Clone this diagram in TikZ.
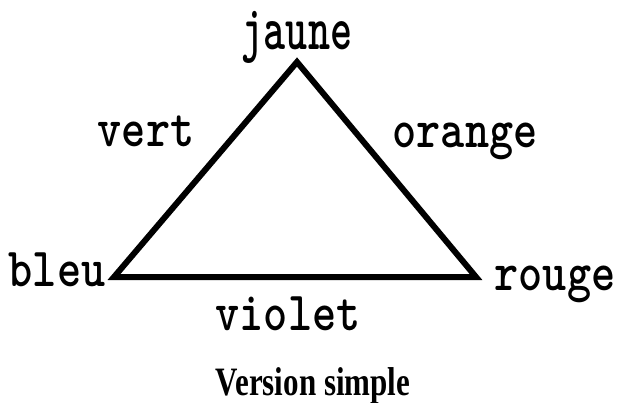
\documentclass[tikz,border=0pt]{standalone}
\usepackage{fontspec}
\setmainfont{Liberation Serif}
\tikzset{
  couleur/.style={font=\ttfamily\bfseries\fontsize{46}{46}\selectfont, inner sep=0pt, anchor=base, yscale=1.2, transform shape},
  edge/.style={line width=6pt, line join=miter},
}
\begin{document}
\begin{tikzpicture}[x=1pt,y=1pt]
\useasboundingbox (0,0) rectangle (620,-403);
\coordinate (J) at (297,-62);
\coordinate (B) at (114,-277);
\coordinate (R) at (476,-277);
\draw[edge] (B) -- (J) -- (R) -- cycle;
\node[couleur, font=\ttfamily\bfseries\fontsize{42}{42}\selectfont, yscale=1.25] (jaune) at (297,-50) {jaune};
\node[couleur] (vert) at (146,-147) {vert};
\node[couleur] (orange) at (465,-148) {orange};
\node[couleur] (bleu) at (57,-286) {bleu};
\node[couleur] (rouge) at (555,-290) {rouge};
\node[couleur] (violet) at (288,-330) {violet};
\node[font=\bfseries\fontsize{31}{31}\selectfont, inner sep=0pt, anchor=base, yscale=1.3, transform shape] (titre) at (313,-395) {Version simple};
\end{tikzpicture}
\end{document}
